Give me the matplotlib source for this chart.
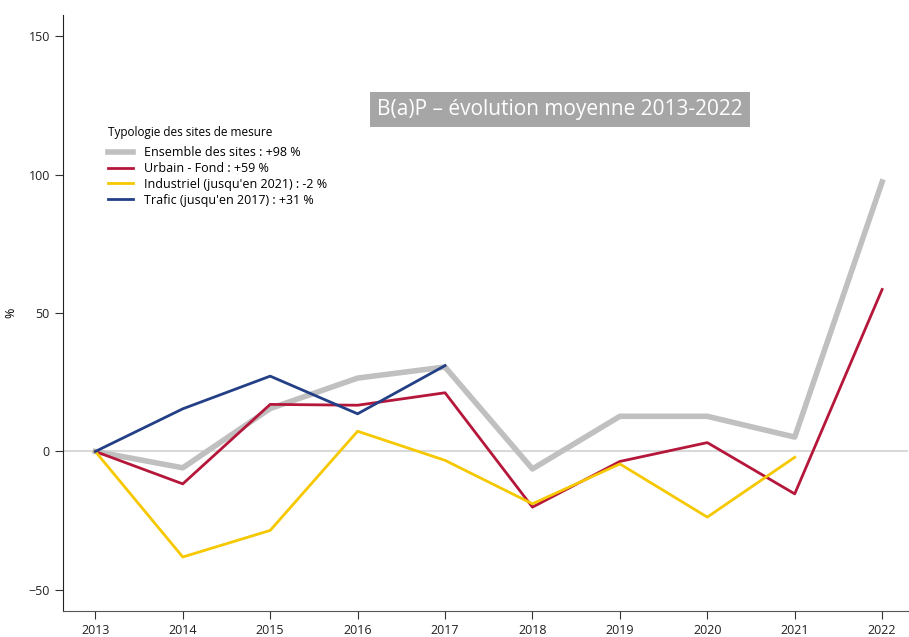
import matplotlib.pyplot as plt

plt.rcParams['font.family'] = ['Open Sans', 'DejaVu Sans']

years = [2013, 2014, 2015, 2016, 2017, 2018, 2019, 2020, 2021, 2022]
ensemble = [0, -5.9, 15.5, 26.5, 30.5, -6.3, 12.7, 12.7, 5.2, 97.3]
urbain = [0, -11.7, 17.0, 16.7, 21.2, -20.1, -3.6, 3.2, -15.3, 58.5]
industriel = [0, -38.1, -28.5, 7.3, -3.2, -18.9, -4.5, -23.7, -2.1]
trafic = [0, 15.4, 27.2, 13.6, 31.0]

labels = [
    "Ensemble des sites : +98 %",
    "Urbain - Fond : +59 %",
    "Industriel (jusqu'en 2021) : -2 %",
    "Trafic (jusqu'en 2017) : +31 %",
]
title = "B(a)P \u2013 évolution moyenne 2013-2022"

fig = plt.figure(figsize=(9.09, 6.37), dpi=100)
ax = fig.add_axes([0.0693, 0.0408, 0.93, 0.9357])

ax.axhline(0, color="#d9d9d9", lw=1.5, zorder=1)
ax.plot(years, ensemble, color="#c0c0c0", lw=4, label=labels[0], zorder=2)
ax.plot(years, urbain, color="#b5173b", lw=2, label=labels[1], zorder=3)
ax.plot(years[:len(industriel)], industriel, color="#f5c800", lw=2, label=labels[2], zorder=3)
ax.plot(years[:len(trafic)], trafic, color="#233f85", lw=2, label=labels[3], zorder=4)

ax.set_xlim(2012.63, 2022.3)
ax.set_ylim(-57.6, 157.6)
ax.set_xticks(years)
ax.set_yticks([-50, 0, 50, 100, 150])
ax.tick_params(labelsize=9, length=6, color="#333333", labelcolor="#222222")
ax.set_ylabel("%", fontsize=9, labelpad=8)

for s in ["top", "right"]:
    ax.spines[s].set_visible(False)
ax.spines["left"].set_color("#222222")
ax.spines["bottom"].set_color("#555555")

leg = ax.legend(title="Typologie des sites de mesure", loc="upper left",
                bbox_to_anchor=(0.040, 0.832), frameon=False, fontsize=9,
                title_fontsize=8.5, handlelength=2.0, labelspacing=0.22,
                handletextpad=0.9)
leg._legend_box.align = "left"
leg._legend_box.sep = 5

ax.text(0.588, 0.842, title, transform=ax.transAxes, ha="center", va="center",
        fontsize=15, color="white",
        bbox=dict(boxstyle="square,pad=0.33", fc="#a6a6a6", ec="none"))

fig.savefig("out.png", dpi=100)
